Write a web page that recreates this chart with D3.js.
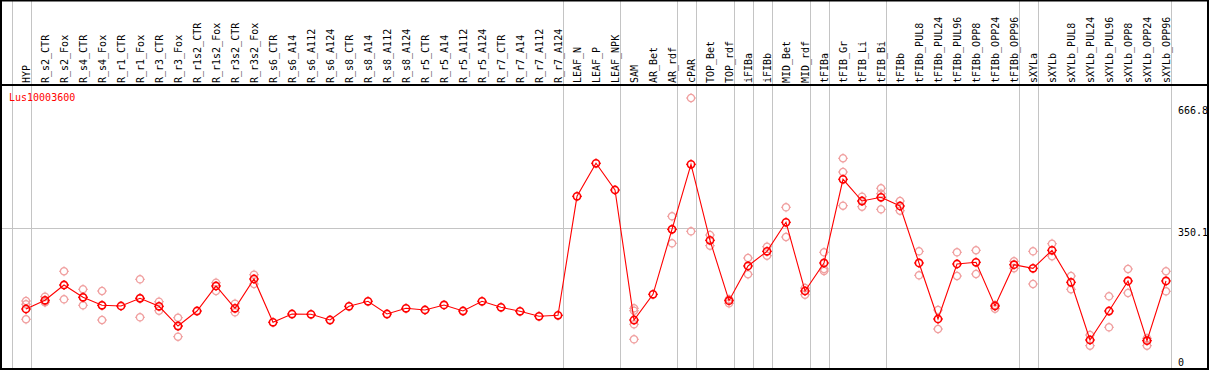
<!DOCTYPE html>
<html>
<head>
<meta charset="utf-8">
<script src="https://cdnjs.cloudflare.com/ajax/libs/d3/7.8.5/d3.min.js"></script>
<style>
  html, body { margin: 0; padding: 0; background: #fff; }
  svg { display: block; }
  text { font-family: "DejaVu Sans Mono", "Liberation Mono", monospace; font-size: 10px; }
</style>
</head>
<body>
<div id="chart"></div>
<script>
const geneName = "Lus10003600";

const categories = [
  "HYP","R_s2_CTR","R_s2_Fox","R_s4_CTR","R_s4_Fox","R_r1_CTR","R_r1_Fox","R_r3_CTR","R_r3_Fox",
  "R_r1s2_CTR","R_r1s2_Fox","R_r3s2_CTR","R_r3s2_Fox","R_s6_CTR","R_s6_A14","R_s6_A112","R_s6_A124",
  "R_s8_CTR","R_s8_A14","R_s8_A112","R_s8_A124","R_r5_CTR","R_r5_A14","R_r5_A112","R_r5_A124",
  "R_r7_CTR","R_r7_A14","R_r7_A112","R_r7_A124","LEAF_N","LEAF_P","LEAF_NPK","SAM","AR_Bet","AR_rdf",
  "cPAR","TOP_Bet","TOP_rdf","iFIBa","iFIBb","MID_Bet","MID_rdf","tFIBa","tFIB_Gr","tFIB_Li","tFIB_Bi",
  "tFIBb","tFIBb_PUL8","tFIBb_PUL24","tFIBb_PUL96","tFIBb_OPP8","tFIBb_OPP24","tFIBb_OPP96",
  "sXYLa","sXYLb","sXYLb_PUL8","sXYLb_PUL24","sXYLb_PUL96","sXYLb_OPP8","sXYLb_OPP24","sXYLb_OPP96"
];

const meanValues = [
  153.3,174.5,211.7,181.8,162.3,160.6,179.4,159.9,111.9,
  148.4,209.3,155.0,226.3,121.0,141.1,140.4,126.5,
  159.9,172.1,141.1,155.0,150.9,163.1,148.4,172.1,
  157.5,147.7,135.6,138.0,427.6,507.9,442.9,126.5,189.1,347.3,
  505.5,320.5,173.5,258.0,293.7,364.3,197.1,265.3,469.0,416.1,425.2,
  404.0,265.3,129.0,262.8,267.0,160.6,261.1,
  252.4,296.2,218.3,77.9,148.4,221.5,76.2,221.5
];

const replicateValues = [
  [172.8,164.8,128.3],[183.3,169.6,170.4],[245.1,176.9,211.7],[201.3,162.3,181.8],[197.1,126.5,162.3],
  [],[225.6,133.1,179.4],[171.1,149.2],[132.1,85.9,111.9],
  [],[217.3,197.1],[166.2,145.3],[236.8,214.2],[],[],[],[],
  [],[],[],[],[],[],[],[],
  [],[],[],[],[],[],[],[155.0,149.2,116.1,79.6],[],[378.9,313.2,347.3],
  [666.8,342.4],[333.4,307.4],[176.9,167.2],[277.4,237.8],[304.9,283.0],[400.8,328.5],[204.4,188.1],
  [291.3,250.7,245.8],[520.1,486.7,404.7],[426.6,402.3,416.1],[447.1,433.9,395.9],
  [416.1,392.5],[293.7,235.3],[150.9,104.6],[291.3,233.6],[296.2,238.5],[154.0,163.1],[269.4,252.4],
  [293.7,214.2],[312.2,281.6],[233.6,201.3],[90.0,64.0],[184.2,108.8],[250.7,192.3],[82.0,64.0],[245.1,196.4]
];

const groupEnds = ["HYP","R_r7_A124","LEAF_NPK","AR_rdf","cPAR","TOP_rdf","iFIBa","iFIBb",
  "MID_rdf","tFIBa","tFIB_Bi","tFIBb_OPP96","sXYLa","sXYLb_OPP96"];

const yTicks = [666.8, 350.1, 0];
const yMax = 666.8;

const W = 1209, H = 370;
const svg = d3.select("#chart").append("svg").attr("width", W).attr("height", H);

const x = d3.scalePoint().domain(categories).range([26, 1166]);
const y = d3.scaleLinear().domain([0, yMax]).range([372, 98]);

// separators
const sepX = [x(categories[0]) - x.step() + 4.5].concat(groupEnds.map(c => x(c) + 4.5));
svg.append("g").selectAll("line").data(sepX).join("line")
  .attr("x1", d => Math.round(d) + 0.5).attr("x2", d => Math.round(d) + 0.5)
  .attr("y1", 0).attr("y2", 369)
  .attr("stroke", "#c4c4c4").attr("stroke-width", 1);

// horizontal mid grid line
svg.append("line")
  .attr("x1", 1).attr("x2", Math.round(x(categories[categories.length-1]) + 4.5) + 0.5)
  .attr("y1", Math.round(y(350.1)) + 0.5).attr("y2", Math.round(y(350.1)) + 0.5)
  .attr("stroke", "#c4c4c4").attr("stroke-width", 1);

// borders
const border = svg.append("g").attr("stroke", "#000").attr("stroke-width", 2).attr("fill", "none");
border.append("line").attr("x1", 0).attr("x2", W).attr("y1", 0.5).attr("y2", 0.5);
border.append("line").attr("x1", 0).attr("x2", W).attr("y1", 85).attr("y2", 85);
border.append("line").attr("x1", 0).attr("x2", W).attr("y1", 369).attr("y2", 369);
border.append("line").attr("x1", 1).attr("x2", 1).attr("y1", 0).attr("y2", H);
border.append("line").attr("x1", 1208).attr("x2", 1208).attr("y1", 0).attr("y2", H);

// category labels
svg.append("g").selectAll("text").data(categories).join("text")
  .attr("transform", d => `translate(${x(d) + 4},83) rotate(-90)`)
  .attr("fill", "#000")
  .text(d => d);

// gene name
svg.append("text").attr("x", 9).attr("y", 101).attr("fill", "#ff0000").text(geneName);

// right axis labels
const tickY = {"666.8": 114, "350.1": 236, "0": 366};
svg.append("g").selectAll("text").data(yTicks).join("text")
  .attr("x", 1178)
  .attr("y", d => tickY[String(d)])
  .attr("fill", "#000")
  .text(d => String(d));

function marker(g, color, sw) {
  g.append("circle").attr("r", 3.6).attr("fill", "none").attr("stroke", color).attr("stroke-width", sw);
  const t = [[0,-5,0,-3],[0,3,0,5],[-5,0,-3,0],[3,0,5,0]];
  g.selectAll("line.tk").data(t).join("line").attr("class","tk")
    .attr("x1", d => d[0]).attr("y1", d => d[1]).attr("x2", d => d[2]).attr("y2", d => d[3])
    .attr("stroke", color).attr("stroke-width", 1);
}

// replicates
const reps = [];
replicateValues.forEach((arr, i) => arr.forEach(v => reps.push({c: categories[i], v})));
svg.append("g").selectAll("g").data(reps).join("g")
  .attr("transform", d => `translate(${x(d.c)},${y(d.v)})`)
  .each(function() { marker(d3.select(this), "#f0a0a0", 1.3); });

// mean line
const pts = categories.map((c, i) => ({c, v: meanValues[i]}));
svg.append("path").datum(pts)
  .attr("d", d3.line().x(d => x(d.c)).y(d => y(d.v)))
  .attr("fill", "none").attr("stroke", "#ff0000").attr("stroke-width", 1.1);

svg.append("g").selectAll("g").data(pts).join("g")
  .attr("transform", d => `translate(${x(d.c)},${y(d.v)})`)
  .each(function() { marker(d3.select(this), "#ff0000", 1.6); });
</script>
</body>
</html>
